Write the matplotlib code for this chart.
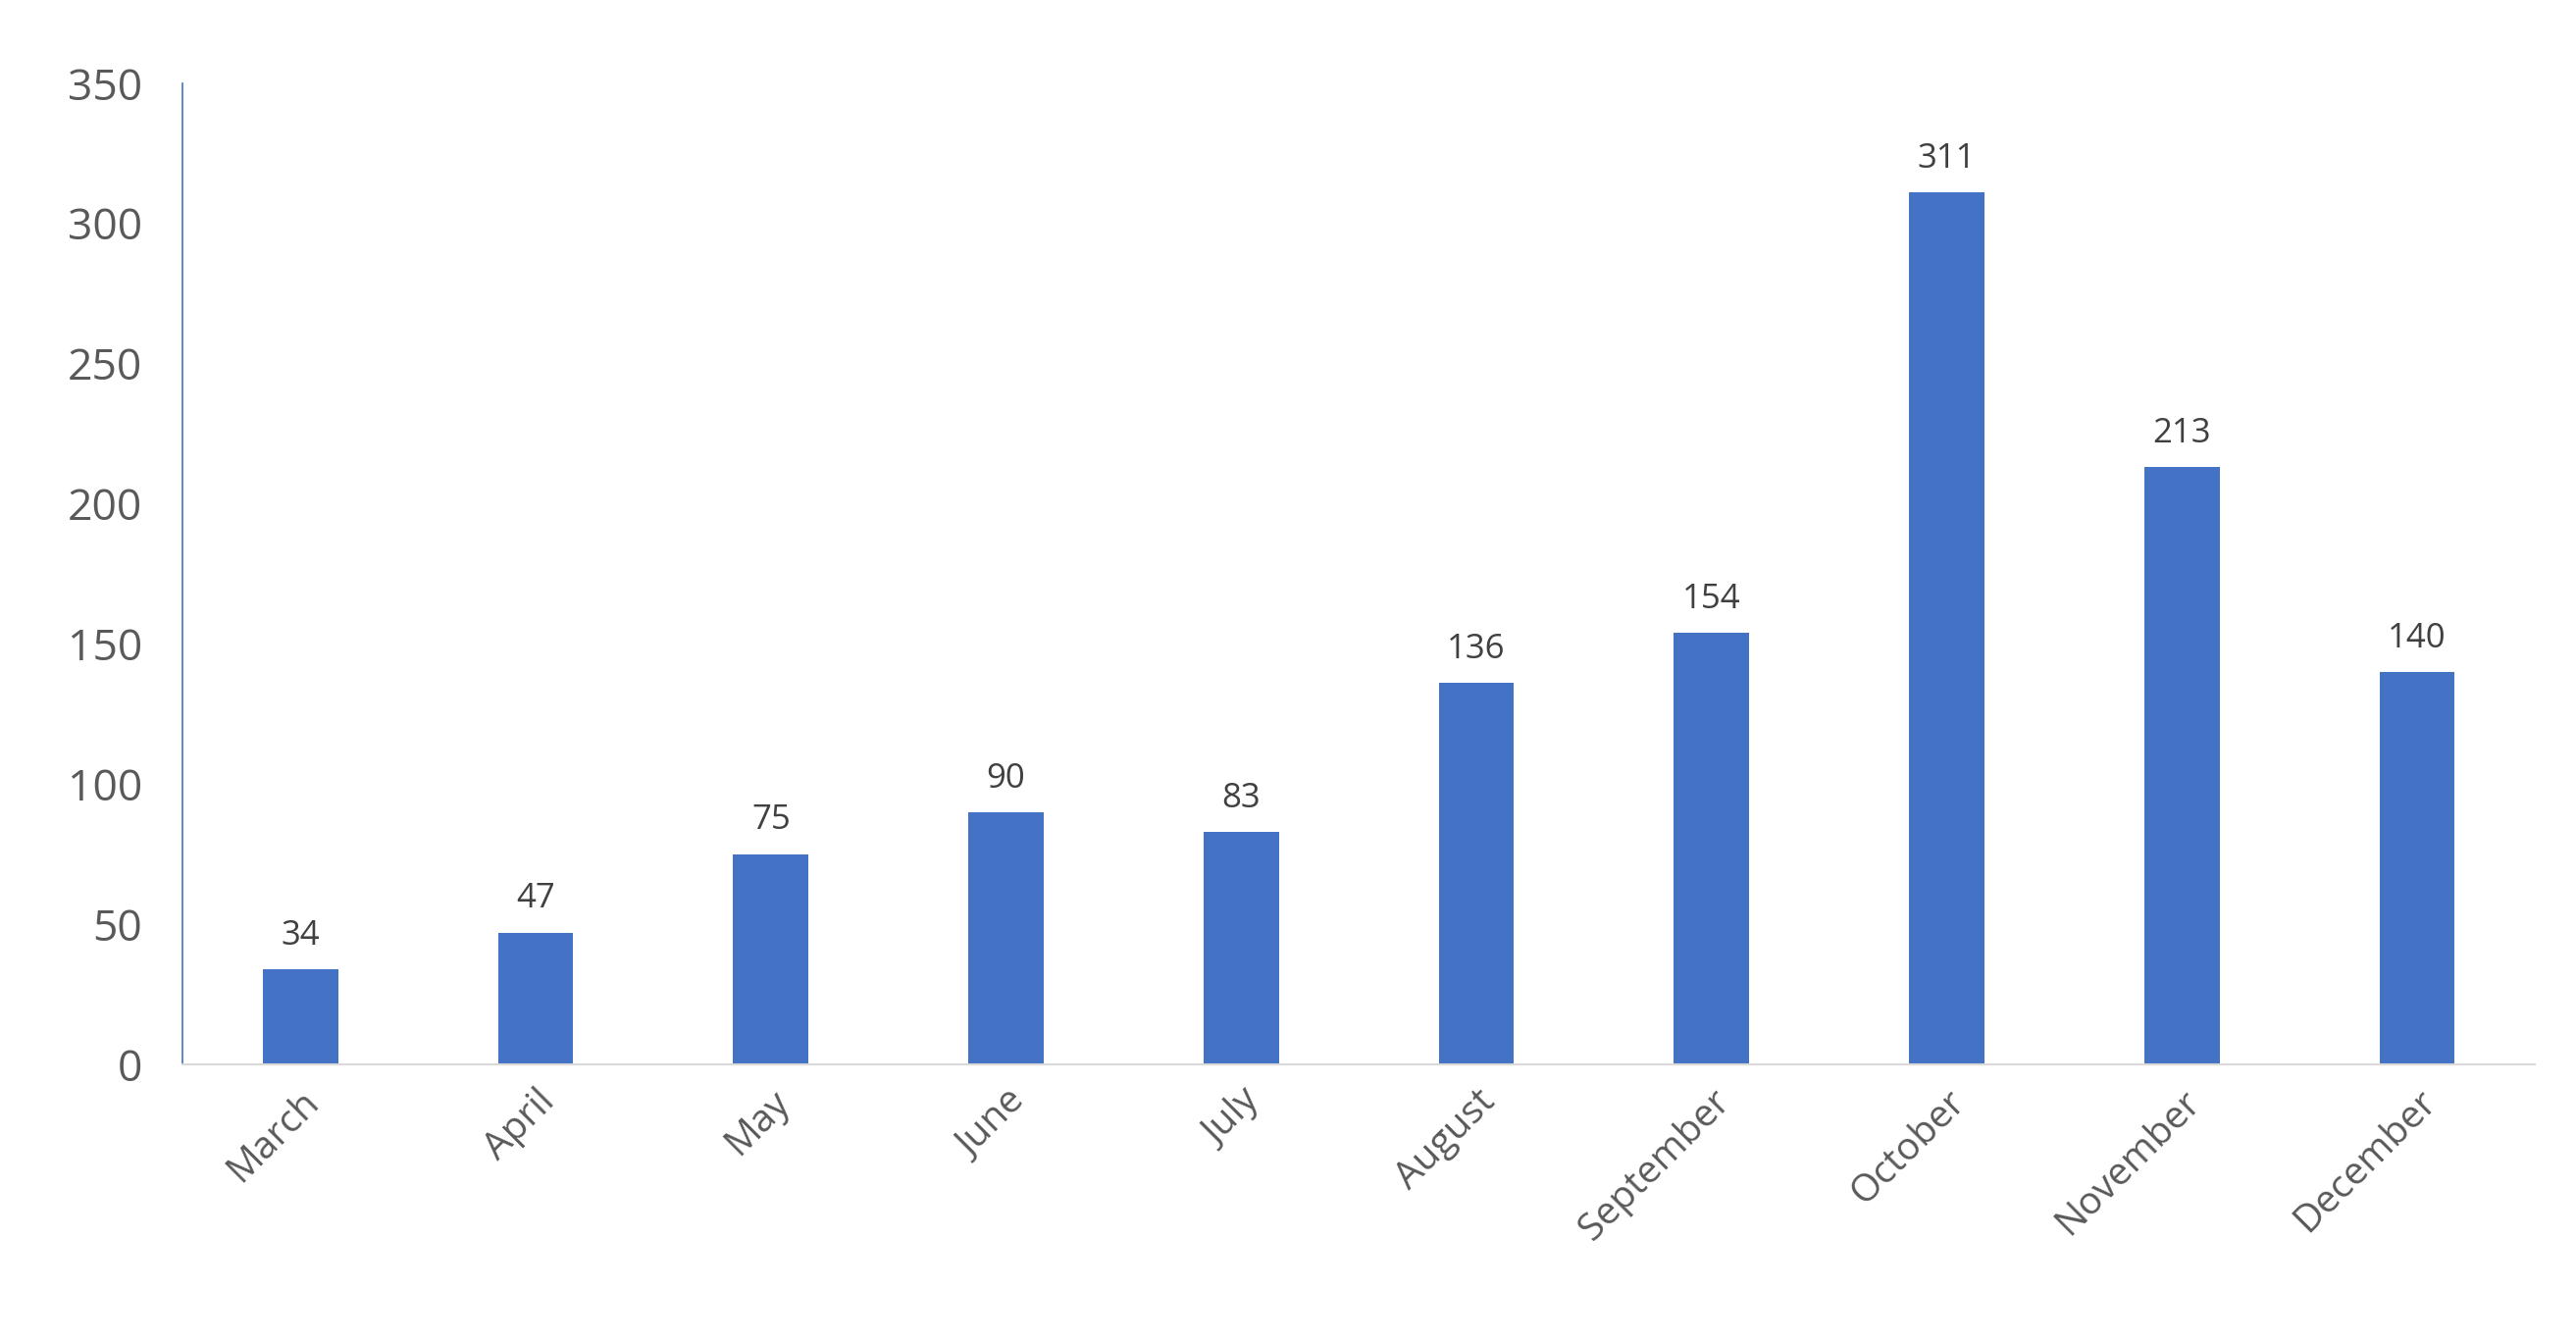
import matplotlib.pyplot as plt

months = ["March", "April", "May", "June", "July", "August",
          "September", "October", "November", "December"]
counts = [34, 47, 75, 90, 83, 136, 154, 311, 213, 140]

plt.rcParams["font.family"] = ["Open Sans", "DejaVu Sans"]

fig = plt.figure(figsize=(26.26, 13.68), dpi=100)
ax = fig.add_axes([0.071, 0.207, 0.913, 0.731])

x = range(len(months))
bars = ax.bar(x, counts, width=0.32, color="#4472C4")
for b, v in zip(bars, counts):
    ax.text(b.get_x() + b.get_width() / 2, v + 6, str(v),
            ha="center", va="bottom", fontsize=25, color="#404040")

ax.set_xlim(-0.5, len(months) - 0.5)
ax.set_ylim(0, 350)
ax.set_yticks(range(0, 351, 50))
ax.set_xticks(list(x))
ax.set_xticklabels(months, rotation=45, ha="right", rotation_mode="anchor",
                   fontsize=28, color="#595959")
ax.tick_params(axis="y", labelsize=32, labelcolor="#595959", length=0, pad=30)
ax.tick_params(axis="x", length=0, pad=14)

for s in ["top", "right"]:
    ax.spines[s].set_visible(False)
ax.spines["left"].set_color("#4472C4")
ax.spines["left"].set_linewidth(1.2)
ax.spines["bottom"].set_color("#D9D9D9")
ax.spines["bottom"].set_linewidth(1.5)

fig.savefig("out.png", dpi=100)
